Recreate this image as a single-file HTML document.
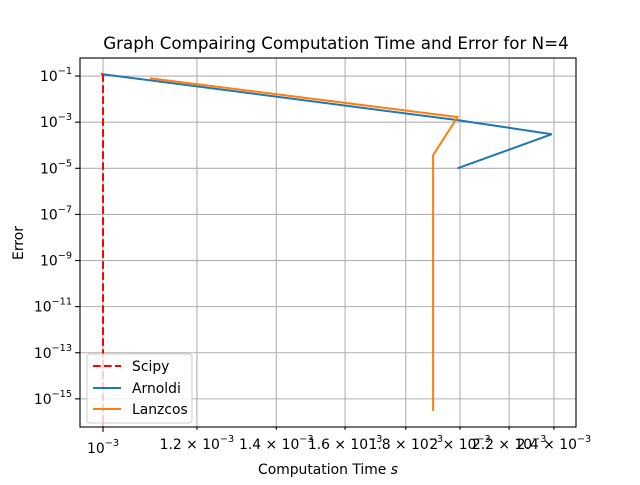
<!DOCTYPE html>
<html><head><meta charset="utf-8"><style>
body{margin:0;background:#fff;}
text{font-family:"DejaVu Sans","Liberation Sans",sans-serif;fill:#000;}
</style></head><body>
<svg width="640" height="480" viewBox="0 0 640 480" xmlns="http://www.w3.org/2000/svg">
<defs><clipPath id="pc"><rect x="80" y="58" width="496" height="369"/></clipPath></defs>
<text x="336" y="49" font-size="16.7" text-anchor="middle">Graph Compairing Computation Time and Error for N=4</text>
<g id="grid"></g><g id="series" clip-path="url(#pc)"></g><g id="axes"></g>
<rect x="80" y="58" width="496" height="369" fill="none" stroke="#000" stroke-width="1.1"/>
<text x="328" y="474" font-size="13.9" text-anchor="middle">Computation Time <tspan font-style="italic">s</tspan></text>
<text x="23" y="243" font-size="13.9" text-anchor="middle" transform="rotate(-90 23 243)">Error</text>
<g>
<rect x="87" y="354" width="105" height="69" rx="3" fill="#fff" fill-opacity="0.8" stroke="#ccc"/>
<line x1="93" y1="366" x2="121" y2="366" stroke="red" stroke-width="2" stroke-dasharray="7.7,3.3"/>
<text x="132" y="371" font-size="13.9">Scipy</text>
<line x1="93" y1="388" x2="121" y2="388" stroke="#1f77b4" stroke-width="2"/>
<text x="132" y="393" font-size="13.9">Arnoldi</text>
<line x1="93" y1="409" x2="121" y2="409" stroke="#ff7f0e" stroke-width="2"/>
<text x="132" y="414" font-size="13.9">Lanzcos</text>
</g>
</svg>
<script>
const scipyX=[1.0e-3,1.0e-3];
const scipyY=[1.2e-1,1e-17];
const arnoldiX=[0.996e-3,1.99e-3,2.39e-3,1.99e-3];
const arnoldiY=[1.23e-1,1.23e-3,3.0e-4,1e-5];
const lanczosX=[1.095e-3,1.99e-3,1.898e-3,1.898e-3];
const lanczosY=[8.1e-2,1.66e-3,3.7e-5,3.0e-16];
const xTicks=[1.2e-3,1.4e-3,1.6e-3,1.8e-3,2.0e-3,2.2e-3,2.4e-3];
const xTickLabels=["1.2","1.4","1.6","1.8","2","2.2","2.4"];
const yTickExps=[-1,-3,-5,-7,-9,-11,-13,-15];

const NS="http://www.w3.org/2000/svg";
const X0=80,X1=576,Y0=58,Y1=427;
const lxMin=-3.0194,lxMax=-2.6012,lyMax=-0.217,lyMin=-16.22;
function sx(v){return X0+(Math.log10(v)-lxMin)/(lxMax-lxMin)*(X1-X0);}
function sy(v){return Y0+(lyMax-Math.log10(v))/(lyMax-lyMin)*(Y1-Y0);}
function mk(tag,attrs,parent){const e=document.createElementNS(NS,tag);for(const k in attrs)e.setAttribute(k,attrs[k]);parent.appendChild(e);return e;}
const grid=document.getElementById('grid'),axes=document.getElementById('axes'),ser=document.getElementById('series');

const allX=[1e-3].concat(xTicks);
allX.forEach((v,i)=>{
  const x=sx(v);
  const g=mk('line',{x1:x,x2:x,y1:Y0,y2:Y1,stroke:'#b0b0b0','stroke-width':1.1},grid);
  
  
  const t=mk('line',{x1:x,x2:x,y1:Y1,y2:Y1+(i==0?4.9:2.8),stroke:'#000','stroke-width':1.1},axes);
  
  
  const tx=mk('text',{x:x,y:Y1+(i==0?26:22),'font-size':13.9,'text-anchor':'middle'},axes);
  
  
  if(i==0){tx.innerHTML='10<tspan dy="-7" font-size="9.7">−3</tspan>';}
  else{tx.innerHTML=xTickLabels[i-1]+' × 10<tspan dy="-7" font-size="9.7">−3</tspan>';}
});
yTickExps.forEach(e=>{
  const y=sy(Math.pow(10,e));
  const g=mk('line',{x1:X0,x2:X1,y1:y,y2:y,stroke:'#b0b0b0','stroke-width':1.1},grid);
  
  
  const t=mk('line',{x1:X0-4.9,x2:X0,y1:y,y2:y,stroke:'#000','stroke-width':1.1},axes);
  
  
  const tx=mk('text',{x:X0-8,y:y+5,'font-size':13.9,'text-anchor':'end'},axes);
  
  
  tx.innerHTML='10<tspan dy="-7" font-size="9.7">−'+(-e)+'</tspan>';
});
function line(xs,ys,color,dash,name){
  const pts=xs.map((v,i)=>sx(v).toFixed(1)+','+sy(ys[i]).toFixed(1)).join(' ');
  const p=mk('polyline',{points:pts,fill:'none',stroke:color,'stroke-width':2},ser);
  if(dash)p.setAttribute('stroke-dasharray','7.7,3.3');
  
  
}
line(arnoldiX,arnoldiY,'#1f77b4',false,'arnoldi-line');
line(lanczosX,lanczosY,'#ff7f0e',false,'lanczos-line');
line(scipyX,scipyY,'red',true,'scipy-line');
</script>
</body></html>
